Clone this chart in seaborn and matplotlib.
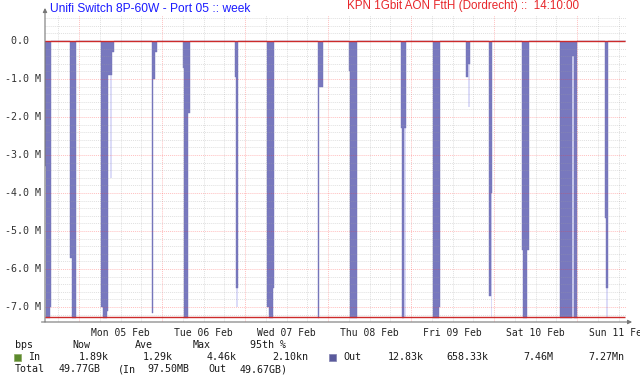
import matplotlib
matplotlib.use("Agg")
import numpy as np
import pandas as pd
import matplotlib.pyplot as plt
import seaborn as sns

# -----------------------------
# Data (Out traffic, Mbps, drawn mirrored below zero)
# -----------------------------
out_time = [
    "2024-02-04 14:10", "2024-02-04 14:30", "2024-02-04 15:30", "2024-02-04 16:00",
    "2024-02-04 21:30", "2024-02-04 22:00", "2024-02-04 23:00",
    "2024-02-05 06:30", "2024-02-05 07:00", "2024-02-05 08:00", "2024-02-05 08:30",
    "2024-02-05 09:30", "2024-02-05 10:00",
    "2024-02-05 21:00", "2024-02-05 21:30", "2024-02-05 22:00", "2024-02-05 22:30",
    "2024-02-06 06:00", "2024-02-06 06:30", "2024-02-06 07:30", "2024-02-06 08:00",
    "2024-02-06 21:00", "2024-02-06 21:30", "2024-02-06 22:00",
    "2024-02-07 06:30", "2024-02-07 07:00", "2024-02-07 08:00", "2024-02-07 08:30",
    "2024-02-07 21:00", "2024-02-07 21:30", "2024-02-07 22:30",
    "2024-02-08 06:00", "2024-02-08 06:30", "2024-02-08 08:30",
    "2024-02-08 21:00", "2024-02-08 21:30", "2024-02-08 22:00", "2024-02-08 22:30",
    "2024-02-09 06:30", "2024-02-09 08:00", "2024-02-09 08:30",
    "2024-02-09 16:00", "2024-02-09 16:30", "2024-02-09 17:00",
    "2024-02-09 22:30", "2024-02-09 23:00", "2024-02-09 23:30",
    "2024-02-10 08:00", "2024-02-10 08:30", "2024-02-10 09:30", "2024-02-10 10:00",
    "2024-02-10 19:00", "2024-02-10 22:30", "2024-02-10 23:00",
    "2024-02-11 00:00", "2024-02-11 08:00", "2024-02-11 08:30", "2024-02-11 09:00",
    "2024-02-11 14:10",
]
out_mbps = [
    -3.3, -7.3, -7.0, 0.0,
    -5.7, -7.3, 0.0,
    -7.0, -7.3, -7.1, -0.9,
    -0.3, 0.0,
    -7.15, -1.0, -0.3, 0.0,
    -0.7, -7.3, -1.9, 0.0,
    -0.95, -6.5, 0.0,
    -7.0, -7.3, -6.5, 0.0,
    -7.3, -1.2, 0.0,
    -0.8, -7.3, 0.0,
    -2.3, -7.3, -2.3, 0.0,
    -7.3, -7.0, 0.0,
    -0.95, -0.6, 0.0,
    -6.7, -4.0, 0.0,
    -5.5, -7.3, -5.5, 0.0,
    -7.3, -0.4, -7.3,
    0.0, -4.65, -6.5, 0.0,
    0.0,
]

# peak (max) values that show as light traces
peak_time = [
    "2024-02-05 09:00", "2024-02-05 09:30",
    "2024-02-06 21:30", "2024-02-06 22:00",
    "2024-02-08 22:00", "2024-02-08 22:30",
    "2024-02-09 16:30", "2024-02-09 17:00",
    "2024-02-09 23:00", "2024-02-09 23:30",
    "2024-02-10 22:30", "2024-02-10 23:00",
    "2024-02-11 08:30", "2024-02-11 09:00",
]
peak_mbps = [-3.6, 0.0, -7.0, 0.0, -7.3, 0.0, -1.75, 0.0, -7.3, 0.0, -7.3, 0.0, -7.3, 0.0]

in_95th = 0.0021
out_95th = -7.27

y_ticks = [0, -1, -2, -3, -4, -5, -6, -7]
y_labels = [" 0.0", "-1.0 M", "-2.0 M", "-3.0 M", "-4.0 M", "-5.0 M", "-6.0 M", "-7.0 M"]
day_labels = ["Mon 05 Feb", "Tue 06 Feb", "Wed 07 Feb", "Thu 08 Feb",
              "Fri 09 Feb", "Sat 10 Feb", "Sun 11 Feb"]
day_noons = pd.date_range("2024-02-05 12:00", periods=7, freq="D")

legend_cols = ["Now", "Ave", "Max", "95th %"]
in_stats = ["1.89k", "1.29k", "4.46k", "2.10kn"]
out_stats = ["12.83k", "658.33k", "7.46M", "7.27Mn"]
total_parts = ["Total", "49.77GB", "(In", "97.50MB", "Out", "49.67GB)"]

t_start = pd.Timestamp("2024-02-04 14:10")
t_end = pd.Timestamp("2024-02-11 14:10")

# -----------------------------
# Figure
# -----------------------------
sns.set_theme(style="white")
plt.rcParams["font.family"] = ["DejaVu Sans Mono"]

W, H = 640, 380
fig = plt.figure(figsize=(6.4, 3.8), dpi=100)
fig.patch.set_facecolor("white")
ax = fig.add_axes([45 / W, 1 - 322 / H, 581 / W, 307 / H])
ax.set_facecolor("white")

out_t = pd.to_datetime(out_time)
peak_t = pd.to_datetime(peak_time)

ax.fill_between(peak_t, peak_mbps, 0, step="post", color="#dcdcf8", linewidth=0, zorder=1)
ax.fill_between(out_t, out_mbps, 0, step="post", color="#7878be", linewidth=0, zorder=2)
sns.lineplot(x=out_t, y=out_mbps, drawstyle="steps-post", color="#7272b8",
             linewidth=0.3, estimator=None, legend=False, ax=ax, zorder=2)

# grid: gray every 6h / 0.2 M, red at midnight / 1 M
for g in pd.date_range("2024-02-04 18:00", "2024-02-11 12:00", freq="6h"):
    if g.hour == 0:
        ax.axvline(g, color="#ff3030", alpha=0.3, lw=0.7, ls=(0, (1, 1)), zorder=3)
    else:
        ax.axvline(g, color="#a0a0a0", alpha=0.32, lw=0.7, ls=(0, (1, 1)), zorder=3)
for v in np.arange(-7.2, 0.7, 0.2):
    if abs(v - round(v)) < 1e-6:
        ax.axhline(v, color="#ff3030", alpha=0.3, lw=0.7, ls=(0, (1, 1)), zorder=3)
    else:
        ax.axhline(v, color="#a0a0a0", alpha=0.32, lw=0.7, ls=(0, (1, 1)), zorder=3)

ax.hlines([in_95th, out_95th], t_start, t_end - pd.Timedelta("20min"),
          color="#cc2b2b", lw=1.0, zorder=4)

ax.set_xlim(t_start, t_end)
ax.set_ylim(-7.395, 0.684)
for s in ax.spines.values():
    s.set_visible(False)

ax.set_xticks(day_noons)
ax.set_xticklabels(day_labels, fontsize=7.0, color="#222222")
ax.tick_params(axis="x", which="major", length=0, pad=4)
ax.set_xticks(pd.date_range("2024-02-04 18:00", "2024-02-11 12:00", freq="6h"), minor=True)
ax.tick_params(axis="x", which="minor", length=2, color="#888888", width=0.6, direction="out")
ax.set_yticks(y_ticks)
ax.set_yticklabels([])
ax.tick_params(axis="y", length=2, color="#888888", width=0.6, direction="out")
ax.set_xlabel("")
ax.set_ylabel("")

ylab_tr = matplotlib.transforms.blended_transform_factory(fig.transFigure, ax.transData)
for v, lab in zip(y_ticks, y_labels):
    fig.text(5 / W, v, lab, fontsize=7.2, color="#333333", ha="left", va="center",
             transform=ylab_tr)

# axis arrows
arrow = dict(arrowstyle="-|>", color="#777777", lw=0.8, mutation_scale=6, shrinkA=0, shrinkB=0)
ax.annotate("", xy=(0, 1.023), xytext=(0, 0), xycoords="axes fraction", arrowprops=arrow,
            annotation_clip=False)
ax.annotate("", xy=(1.0105, 0), xytext=(-0.006, 0), xycoords="axes fraction", arrowprops=arrow,
            annotation_clip=False)

# titles
fig.text(50 / W, 1 - 9 / H, "Unifi Switch 8P-60W - Port 05 :: week", color="#1a1aff",
         fontsize=8.65, family="Liberation Sans", ha="left", va="center")
fig.text(463 / W, 1 - 6.5 / H, "KPN 1Gbit AON FttH (Dordrecht) ::  14:10:00", color="#e8262a",
         fontsize=8.4, family="Liberation Sans", ha="center", va="center")

# legend block
fs = 7.2
tc = "#1a1a1a"
def put(x, y, s):
    fig.text(x / W, 1 - y / H, s, fontsize=fs, color=tc, ha="left", va="center")

put(15, 345, "bps")
for x, s in zip([72, 135, 193, 250], legend_cols):
    put(x, 345, s)

fig.patches.append(plt.Rectangle((14 / W, 1 - 361 / H), 7 / W, 7 / H, transform=fig.transFigure,
                                 facecolor="#5c8a2e", edgecolor="#8aa860", lw=0.5))
put(28, 357, "In")
for x, s in zip([79, 143, 207, 272], in_stats):
    put(x, 357, s)

fig.patches.append(plt.Rectangle((329 / W, 1 - 361 / H), 7 / W, 7 / H, transform=fig.transFigure,
                                 facecolor="#5a5a9c", edgecolor="#8080b0", lw=0.5))
put(343, 357, "Out")
for x, s in zip([388, 446, 523, 588], out_stats):
    put(x, 357, s)

for x, s in zip([15, 59, 118, 147, 208, 240], total_parts):
    put(x, 369, s)

fig.savefig("out.png", dpi=100, facecolor="white")
